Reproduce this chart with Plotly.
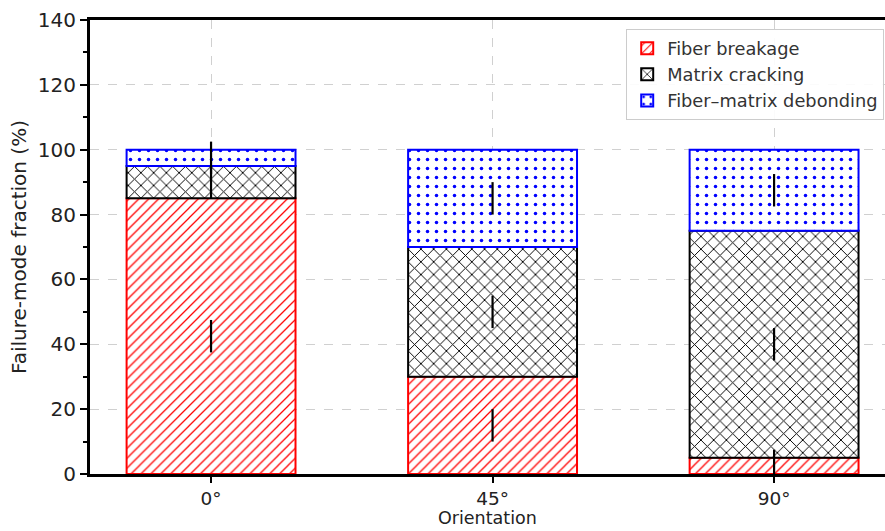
import plotly.graph_objects as go

categories = ["0°", "45°", "90°"]
fiber_breakage = [85, 30, 5]
matrix_cracking = [10, 40, 70]
debonding = [5, 30, 25]
err_fiber = [5, 5, 5]
err_matrix = [5, 5, 5]
err_debond = [5, 5, 5]

xpos = [0, 1, 2]
series = [
    ("Fiber breakage", fiber_breakage, err_fiber, "#ff0000", "/", 7, 0.18),
    ("Matrix cracking", matrix_cracking, err_matrix, "#000000", "x", 9, 0.2),
    ("Fiber–matrix debonding", debonding, err_debond, "#0000ff", ".", 9, 0.12),
]

fig = go.Figure()
base = [0, 0, 0]
err_traces = []
for name, vals, errs, col, shp, sz, sol in series:
    fig.add_trace(go.Bar(
        x=xpos, y=vals, base=base, name=name, width=0.6,
        marker=dict(color="white", line=dict(color=col, width=2),
                    pattern=dict(shape=shp, fgcolor=col, bgcolor="white",
                                 size=sz, solidity=sol, fgopacity=1,
                                 fillmode="overlay")),
    ))
    mids = [b + v / 2 for b, v in zip(base, vals)]
    err_traces.append(go.Scatter(
        x=xpos, y=mids, mode="markers", showlegend=False, cliponaxis=False,
        marker=dict(size=0.1, color="black", opacity=0),
        error_y=dict(type="data", array=errs, visible=True, color="black",
                     thickness=2.2, width=0),
        hoverinfo="skip",
    ))
    base = [b + v for b, v in zip(base, vals)]

for t in err_traces:
    fig.add_trace(t)

fig.update_layout(
    width=885, height=531,
    margin=dict(l=90, r=0, t=20, b=57),
    paper_bgcolor="white", plot_bgcolor="white",
    barmode="overlay",
    font=dict(family="DejaVu Sans", size=17, color="#222222"),
    legend=dict(x=0.999, y=0.98, xanchor="right", yanchor="top",
                bgcolor="rgba(255,255,255,0.9)", bordercolor="#cccccc", borderwidth=1,
                font=dict(size=17.8, color="#333333"), tracegroupgap=0),
    showlegend=True,
    annotations=[dict(text="Orientation", xref="paper", yref="paper",
                      x=0.5, y=-0.1233, xanchor="center", yanchor="bottom",
                      showarrow=False, font=dict(size=17.5, color="#222222"))],
)
fig.update_xaxes(
    range=[-0.43, 2.394], tickvals=xpos, ticktext=categories,
    showline=True, linecolor="black", linewidth=3, mirror=True,
    ticks="outside", ticklen=6, tickwidth=2, tickcolor="black",
    showgrid=True, gridcolor="#d0d0d0", griddash="dash", gridwidth=1,
    zeroline=False, tickfont=dict(size=18.5), automargin=False,
)
fig.update_yaxes(
    range=[0, 140], tickvals=[0, 20, 40, 60, 80, 100, 120, 140],
    showline=True, linecolor="black", linewidth=3,
    ticks="outside", ticklen=7, tickwidth=2, tickcolor="black",
    minor=dict(tickvals=[10, 30, 50, 70, 90, 110, 130], ticks="outside",
               ticklen=4, tickwidth=2, tickcolor="black", showgrid=False),
    showgrid=True, gridcolor="#d0d0d0", griddash="dash", gridwidth=1,
    title=dict(text="Failure-mode fraction (%)", standoff=6), zeroline=False,
    tickfont=dict(size=20), automargin=False,
)

fig.write_html("out.html")
